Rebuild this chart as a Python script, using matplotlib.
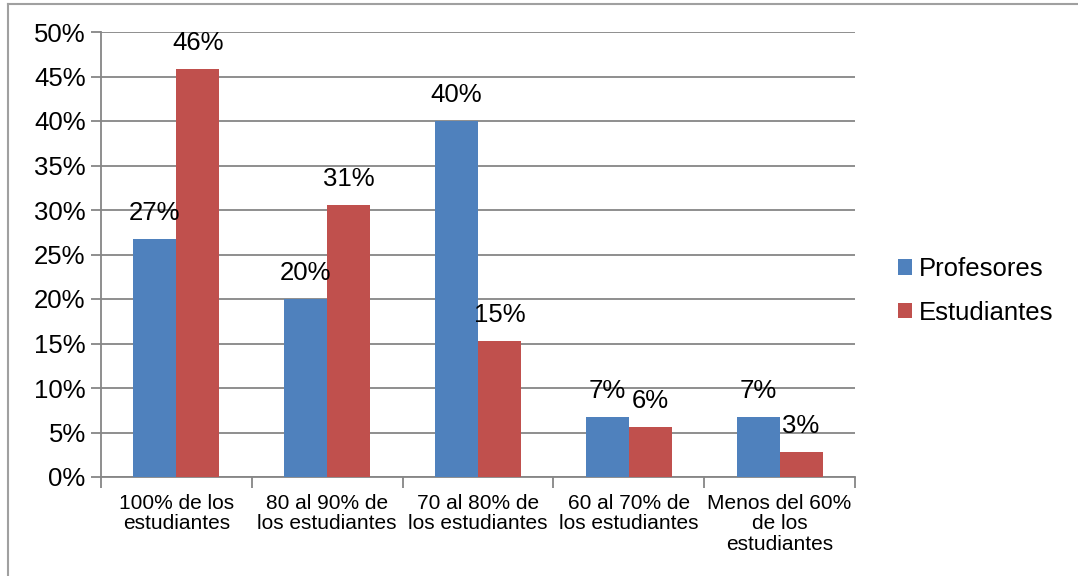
import numpy as np
import matplotlib.pyplot as plt
from matplotlib.lines import Line2D

# datos
categorias = ["100% de los\nestudiantes", "80 al 90% de\nlos estudiantes",
              "70 al 80% de\nlos estudiantes", "60 al 70% de\nlos estudiantes",
              "Menos del 60%\nde los\nestudiantes"]
profesores = [26.7, 20.0, 40.0, 6.7, 6.7]
estudiantes = [45.8, 30.6, 15.3, 5.6, 2.8]
ticks_y = [0, 5, 10, 15, 20, 25, 30, 35, 40, 45, 50]

AZUL = "#4F81BD"
ROJO = "#C0504D"
GRIS = "#868686"

plt.rcParams["font.family"] = ["Liberation Sans", "DejaVu Sans"]

fig = plt.figure(figsize=(10.78, 5.76), dpi=100)
ax = fig.add_axes([101 / 1078, 1 - 477 / 576, 754 / 1078, 445 / 576])

x = np.arange(len(categorias))
w = 0.285
b1 = ax.bar(x - w / 2, profesores, w, color=AZUL, label="Profesores", zorder=3)
b2 = ax.bar(x + w / 2, estudiantes, w, color=ROJO, label="Estudiantes", zorder=3)

for barras, vals in ((b1, profesores), (b2, estudiantes)):
    for r, v in zip(barras, vals):
        ax.annotate(f"{v:.0f}%", (r.get_x() + r.get_width() / 2, v),
                    xytext=(0, 10), textcoords="offset points",
                    ha="center", va="bottom", fontsize=18.5, zorder=4)

ax.set_xlim(-0.5, len(categorias) - 0.5)
ax.set_ylim(0, 50)
ax.set_yticks(ticks_y)
ax.set_yticklabels([f"{t}%" for t in ticks_y], fontsize=18.5)
ax.yaxis.grid(True, color=GRIS, lw=1.3, zorder=0)
ax.set_axisbelow(True)

ax.set_xticks(x)
ax.set_xticklabels(categorias, fontsize=15, linespacing=1.12)
ax.tick_params(axis="x", length=0, pad=12)
ax.set_xticks(np.arange(len(categorias) + 1) - 0.5, minor=True)
ax.tick_params(axis="x", which="minor", length=8, color=GRIS, width=1.3)
ax.tick_params(axis="y", length=7, color=GRIS, width=1.3, pad=4)

for s in ("top", "right"):
    ax.spines[s].set_visible(False)
for s in ("left", "bottom"):
    ax.spines[s].set_color(GRIS)
    ax.spines[s].set_linewidth(1.3)

leg = fig.legend(handles=[b1, b2], loc="upper left",
                 bbox_to_anchor=(888 / 1078, 1 - 247 / 576),
                 frameon=False, fontsize=18.5, handlelength=0.55,
                 handleheight=0.55, handletextpad=0.25, labelspacing=0.75,
                 borderaxespad=0)

# marco exterior
fig.add_artist(Line2D([8 / 1078, 8 / 1078], [0, 1 - 4 / 576], color="#a0a0a0", lw=1.5))
fig.add_artist(Line2D([8 / 1078, 1], [1 - 4 / 576, 1 - 4 / 576], color="#a0a0a0", lw=1.5))

fig.savefig("out.png", dpi=100)
